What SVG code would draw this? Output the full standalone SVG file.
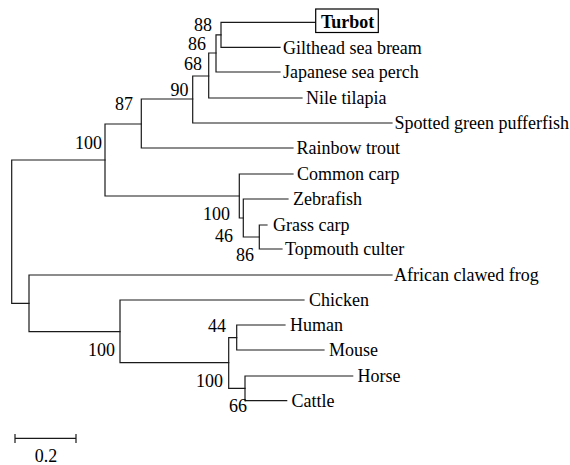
<svg xmlns="http://www.w3.org/2000/svg" width="570" height="465" viewBox="0 0 570 465">
<style>
.br{fill:none;stroke:#1a1a1a;stroke-width:1.2;stroke-linecap:square}
.lf{font-family:"Liberation Serif","Times New Roman",serif;font-size:18px;fill:#000}
.bs{font-family:"Liberation Serif","Times New Roman",serif;font-size:18px;fill:#000;text-anchor:end}
.bold{font-weight:bold}
.box{fill:#fff;stroke:#000;stroke-width:1.2}
</style>
<rect width="570" height="465" fill="#fff"/>
<g id="connectors" class="br">
<path d="M11.7,160 V303.3 M11.7,160 H105 M11.7,303.3 H29"/>
<path d="M105,124 V196 M105,124 H141.3 M105,196 H239.3"/>
<path d="M141.3,99 V148 M141.3,99 H192.7 M141.3,148 H293"/>
<path d="M192.7,76 V123 M192.7,76 H208.7 M192.7,123 H392"/>
<path d="M208.7,53 V98 M208.7,53 H216 M208.7,98 H302"/>
<path d="M216,34.8 V72 M216,34.8 H221 M216,72 H280"/>
<path d="M221,22.3 V47.3 M221,22.3 H315.7 M221,47.3 H280"/>
<path d="M239.3,174 V218 M239.3,174 H293 M239.3,218 H243.3"/>
<path d="M243.3,199 V237 M243.3,199 H288 M243.3,237 H259.3"/>
<path d="M259.3,225 V249 M259.3,225 H267 M259.3,249 H282"/>
<path d="M29,275 V331.7 M29,275 H392 M29,331.7 H120"/>
<path d="M120,300 V362.7 M120,300 H304 M120,362.7 H228.7"/>
<path d="M228.7,337.7 V388.3 M228.7,337.7 H236.7 M228.7,388.3 H245"/>
<path d="M236.7,325 V350 M236.7,325 H285 M236.7,350 H324"/>
<path d="M245,376 V400.7 M245,376 H352.7 M245,400.7 H286.7"/>
<path d="M15,438.3 H76 M15,434.5 V442.5 M76,434.5 V442.5"/>
</g>
<g id="leaf-turbot"><rect class="box" x="315.7" y="9" width="62.6" height="23.5"/><text class="lf bold" transform="translate(321,27.8) scale(1,1.1)">Turbot</text></g>
<g id="leaf-gilthead"><text class="lf" transform="translate(283,53.5) scale(1,1.1)">Gilthead sea bream</text></g>
<g id="leaf-japanese"><text class="lf" transform="translate(283,78) scale(1,1.1)">Japanese sea perch</text></g>
<g id="leaf-nile"><text class="lf" transform="translate(306,104) scale(1,1.1)">Nile tilapia</text></g>
<g id="leaf-pufferfish"><text class="lf" transform="translate(394.5,129) scale(1,1.1)">Spotted green pufferfish</text></g>
<g id="leaf-trout"><text class="lf" transform="translate(296.5,154) scale(1,1.1)">Rainbow trout</text></g>
<g id="leaf-commoncarp"><text class="lf" transform="translate(297,180) scale(1,1.1)">Common carp</text></g>
<g id="leaf-zebrafish"><text class="lf" transform="translate(293,205) scale(1,1.1)">Zebrafish</text></g>
<g id="leaf-grasscarp"><text class="lf" transform="translate(273,231) scale(1,1.1)">Grass carp</text></g>
<g id="leaf-topmouth"><text class="lf" transform="translate(285,255) scale(1,1.1)">Topmouth culter</text></g>
<g id="leaf-frog"><text class="lf" transform="translate(394,281) scale(1,1.1)">African clawed frog</text></g>
<g id="leaf-chicken"><text class="lf" transform="translate(309,306) scale(1,1.1)">Chicken</text></g>
<g id="leaf-human"><text class="lf" transform="translate(290,331) scale(1,1.1)">Human</text></g>
<g id="leaf-mouse"><text class="lf" transform="translate(329,356) scale(1,1.1)">Mouse</text></g>
<g id="leaf-horse"><text class="lf" transform="translate(357.5,382) scale(1,1.1)">Horse</text></g>
<g id="leaf-cattle"><text class="lf" transform="translate(291.5,407) scale(1,1.1)">Cattle</text></g>
<g id="node-88"><text class="bs" transform="translate(212,30.5) scale(1,1.1)">88</text></g>
<g id="node-86a"><text class="bs" transform="translate(206,50) scale(1,1.1)">86</text></g>
<g id="node-68"><text class="bs" transform="translate(202,70) scale(1,1.1)">68</text></g>
<g id="node-90"><text class="bs" transform="translate(188.5,95.5) scale(1,1.1)">90</text></g>
<g id="node-87"><text class="bs" transform="translate(133,110) scale(1,1.1)">87</text></g>
<g id="node-100-fish"><text class="bs" transform="translate(102,149) scale(1,1.1)">100</text></g>
<g id="node-100-carp"><text class="bs" transform="translate(230,220) scale(1,1.1)">100</text></g>
<g id="node-46"><text class="bs" transform="translate(233,242) scale(1,1.1)">46</text></g>
<g id="node-86b"><text class="bs" transform="translate(254,261) scale(1,1.1)">86</text></g>
<g id="node-100-tetrapod"><text class="bs" transform="translate(115,356) scale(1,1.1)">100</text></g>
<g id="node-44"><text class="bs" transform="translate(226,332) scale(1,1.1)">44</text></g>
<g id="node-100-mammal"><text class="bs" transform="translate(223,387) scale(1,1.1)">100</text></g>
<g id="node-66"><text class="bs" transform="translate(247,412) scale(1,1.1)">66</text></g>
<g id="scale"><text class="lf" text-anchor="middle" transform="translate(46,462) scale(1,1.1)">0.2</text></g>
</svg>
